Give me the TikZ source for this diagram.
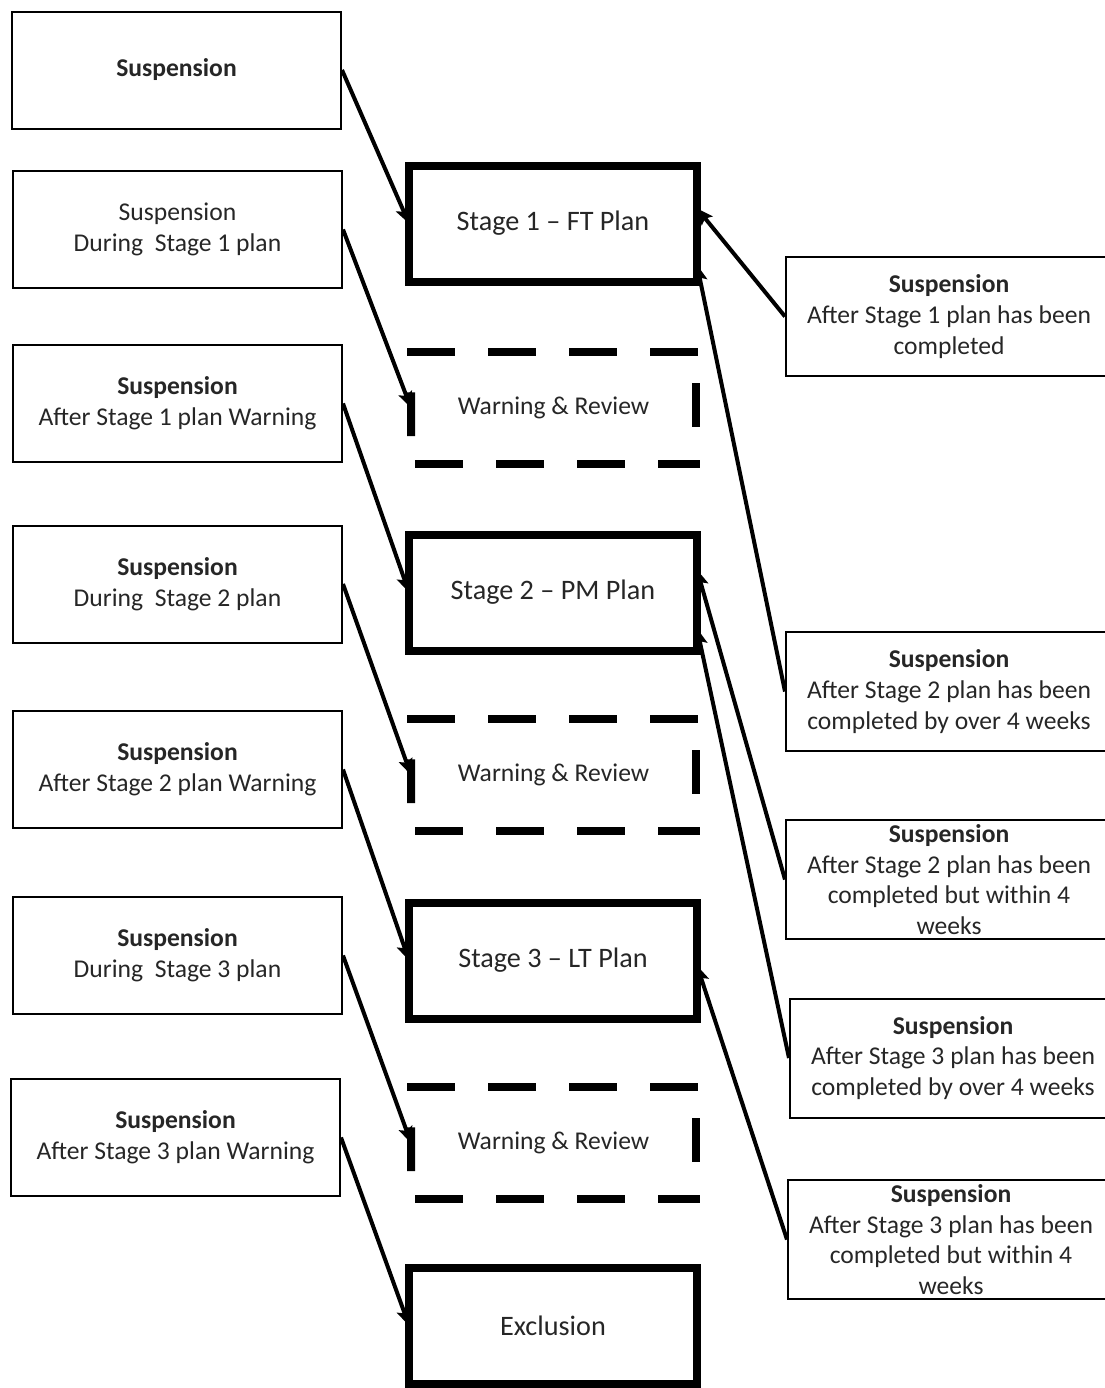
\documentclass[tikz,border=0pt]{standalone}
\usepackage{fontspec}
\setmainfont{Carlito}
\usepackage{xcolor}
\usetikzlibrary{arrows.meta,calc}
\definecolor{ink}{HTML}{262626}
\tikzset{
  susp/.style={draw=black, line width=1pt, align=center, inner xsep=2pt, inner ysep=0pt,
               text=ink, font=\fontsize{12.8}{15.3}\selectfont},
  leftbox/.style={susp, minimum width=164.5pt, minimum height=58.5pt},
  rightbox/.style={susp, minimum width=163pt, minimum height=59.5pt},
  stagebox/.style={draw=black, line width=4pt, minimum width=144pt, minimum height=58pt,
                   outer sep=0pt, align=center, text=ink, font=\fontsize{14.1}{17}\selectfont},
  warnbox/.style={minimum width=142.5pt, minimum height=56pt, outer sep=0pt,
                  text=ink, font=\fontsize{12.8}{15.3}\selectfont},
  dashrule/.style={line width=4pt, dash pattern=on 24pt off 16.5pt},
  sidedash/.style={line width=4pt},
  arrow/.style={-{Stealth[length=8pt,width=7pt,inset=1.5pt]}, line width=2pt, draw=black}
}

\begin{document}
\begin{tikzpicture}[x=0.5pt,y=-0.5pt]
  \useasboundingbox (0,0) rectangle (1104,1388);

  % suspension cases, left column
  \node[leftbox] (l1) at (176.5,70) {\textbf{Suspension}};
  \node[leftbox] (l2) at (177.5,229.5) {Suspension\\During\ \ Stage 1 plan};
  \node[leftbox] (l3) at (177.5,403.5) {\textbf{Suspension}\\After Stage 1 plan Warning};
  \node[leftbox] (l4) at (177.5,584) {\textbf{Suspension}\\During\ \ Stage 2 plan};
  \node[leftbox] (l5) at (177.5,769.5) {\textbf{Suspension}\\After Stage 2 plan Warning};
  \node[leftbox] (l6) at (177.5,955.5) {\textbf{Suspension}\\During\ \ Stage 3 plan};
  \node[leftbox] (l7) at (175.5,1137.5) {\textbf{Suspension}\\After Stage 3 plan Warning};

  % stages
  \node[stagebox] (s1) at (553,223.5) {Stage 1 -- FT Plan};
  \node[warnbox] (w1) at (553.5,408) {Warning \& Review};
  \node[stagebox] (s2) at (553,592.5) {Stage 2 -- PM Plan};
  \node[warnbox] (w2) at (553.5,775) {Warning \& Review};
  \node[stagebox] (s3) at (553,960.5) {Stage 3 -- LT Plan};
  \node[warnbox] (w3) at (553.5,1143) {Warning \& Review};
  \node[stagebox] (ex) at (553,1325.5) {Exclusion};

  \foreach \w in {w1,w2,w3} {
    \draw[dashrule] ([xshift=-2pt]\w.north west) -- ([xshift=2pt]\w.north east);
    \draw[dashrule,dash phase=36.5pt] ([xshift=-2pt]\w.south west) -- ([xshift=2pt]\w.south east);
    \draw[sidedash] ($(\w.north west)!0.36!(\w.south west)$) -- ($(\w.north west)!0.75!(\w.south west)$);
    \draw[sidedash] ($(\w.north east)!0.28!(\w.south east)$) -- ($(\w.north east)!0.67!(\w.south east)$);
  }

  % suspension cases, right column
  \node[rightbox] (r1) at (949,316.5) {\textbf{Suspension}\\After Stage 1 plan has been\\completed};
  \node[rightbox] (r2) at (949,691.5) {\textbf{Suspension}\\After Stage 2 plan has been\\completed by over 4 weeks};
  \node[rightbox] (r3) at (949,879.5) {\textbf{Suspension}\\After Stage 2 plan has been\\completed but within 4\\weeks};
  \node[rightbox] (r4) at (953,1058) {\textbf{Suspension}\\After Stage 3 plan has been\\completed by over 4 weeks};
  \node[rightbox] (r5) at (951,1239.5) {\textbf{Suspension}\\After Stage 3 plan has been\\completed but within 4\\weeks};

  \foreach \a/\b in {l1/s1,l2/w1,l3/s2,l4/w2,l5/s3,l6/w3,l7/ex} {
    \draw[arrow] (\a.east) -- (\b.west);
  }
  \draw[arrow] (r1.west) -- (s1.6);
  \draw[arrow] (r2.west) -- (s1.-16);
  \draw[arrow] (r3.west) -- (s2.9);
  \draw[arrow] (r4.west) -- (s2.-14);
  \draw[arrow] (r5.west) -- (s3.-2);
\end{tikzpicture}
\end{document}
